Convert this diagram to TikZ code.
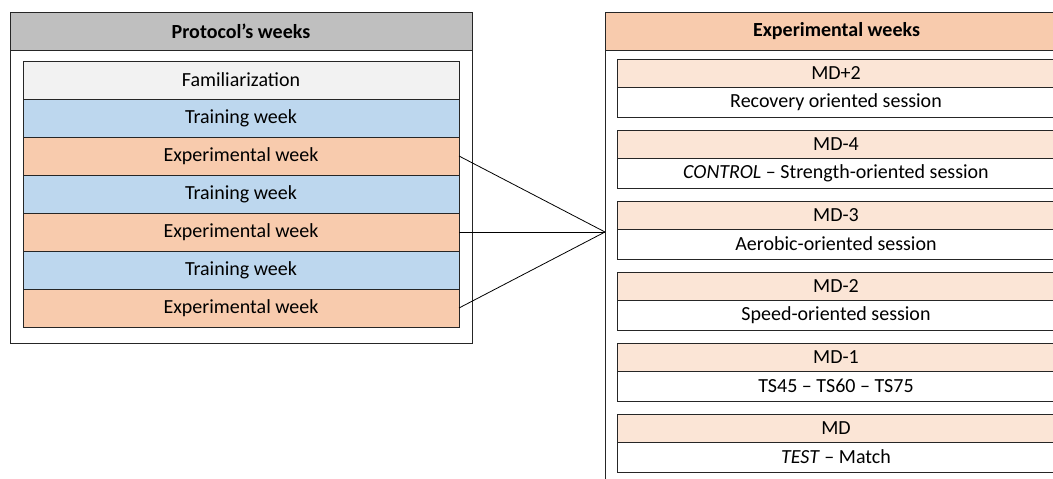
\documentclass[tikz,border=0pt]{standalone}
\usepackage{fontspec}
\setmainfont{Carlito}
\usetikzlibrary{positioning}
\definecolor{headGray}{RGB}{191,191,191}
\definecolor{famGray}{RGB}{242,242,242}
\definecolor{trainBlue}{RGB}{189,215,238}
\definecolor{expOrange}{RGB}{248,203,173}
\definecolor{dayOrange}{RGB}{251,229,214}
\tikzset{
	panel/.style={
		draw=black!85,
		line width=0.8pt,
		fill=white,
		inner sep=0pt,
		outer sep=0pt,
	},
	panelhead/.style={
		panel,
		minimum height=38pt,
		font=\fontsize{20}{24}\selectfont\bfseries,
	},
	weekbox/.style={
		panel,
		minimum width=436pt,
		minimum height=38pt,
		font=\fontsize{20}{24}\selectfont,
	},
	daybox/.style={
		panel,
		fill=dayOrange,
		minimum width=438pt,
		minimum height=28pt,
		font=\fontsize{20}{24}\selectfont,
	},
	sessbox/.style={
		panel,
		minimum width=438pt,
		minimum height=30pt,
		font=\fontsize{20}{24}\selectfont,
	},
	link/.style={
		line width=0.8pt,
		draw=black,
	}
}

\begin{document}
\begin{tikzpicture}[x=1pt, y=-1pt]
			\useasboundingbox (0,0) rectangle (1053,479);
			\clip (0,0) rectangle (1053,479);
			
			% --- Left panel: protocol ---
			\node[panel, minimum width=462pt, minimum height=331pt, anchor=north west] (protoframe) at (10,12) {};
			\node[panelhead, fill=headGray, minimum width=462pt, anchor=north] (protohead) at (protoframe.north) {Protocol’s weeks};
			
			\node[weekbox, fill=famGray, anchor=north] (fam) at (241,61) {Familiarization};
			\node[weekbox, fill=trainBlue] (train1) [below=0pt of fam] {Training week};
			\node[weekbox, fill=expOrange] (exp1) [below=0pt of train1] {Experimental week};
			\node[weekbox, fill=trainBlue] (train2) [below=0pt of exp1] {Training week};
			\node[weekbox, fill=expOrange] (exp2) [below=0pt of train2] {Experimental week};
			\node[weekbox, fill=trainBlue] (train3) [below=0pt of exp2] {Training week};
			\node[weekbox, fill=expOrange] (exp3) [below=0pt of train3] {Experimental week};
			
			% --- Right panel: experimental weeks (runs off the page) ---
			\node[panel, minimum width=463pt, minimum height=520pt, anchor=north west] (expframe) at (605,12) {};
			\node[panelhead, fill=expOrange, minimum width=463pt, anchor=north] (exphead) at (expframe.north) {Experimental weeks};
			
			\node[daybox, anchor=north west] (mdp2) at (617,59) {MD+2};
			\node[sessbox] (recov) [below=0pt of mdp2] {Recovery oriented session};
			\node[daybox] (mdm4) [below=13pt of recov] {MD-4};
			\node[sessbox] (control) [below=0pt of mdm4] {\textit{CONTROL} -- Strength-oriented session};
			\node[daybox] (mdm3) [below=13pt of control] {MD-3};
			\node[sessbox] (aerobic) [below=0pt of mdm3] {Aerobic-oriented session};
			\node[daybox] (mdm2) [below=13pt of aerobic] {MD-2};
			\node[sessbox] (speed) [below=0pt of mdm2] {Speed-oriented session};
			\node[daybox] (mdm1) [below=13pt of speed] {MD-1};
			\node[sessbox] (ts) [below=0pt of mdm1] {TS45 -- TS60 -- TS75};
			\node[daybox] (md) [below=13pt of ts] {MD};
			\node[sessbox] (test) [below=0pt of md] {\textit{TEST} -- Match};
			
			% --- Links ---
			\coordinate (hub) at (exp2.east -| expframe.west);
			\draw[link] (exp1.east) -- (hub);
			\draw[link] (exp2.east) -- (hub);
			\draw[link] (exp3.east) -- (hub);
\end{tikzpicture}
\end{document}
